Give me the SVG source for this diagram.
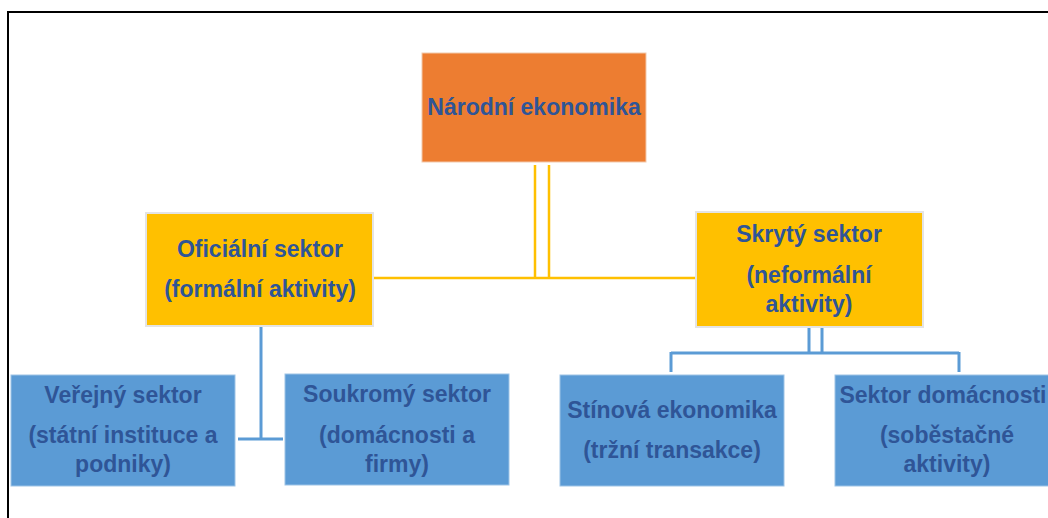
<svg xmlns="http://www.w3.org/2000/svg" width="1048" height="518" viewBox="0 0 1048 518">
<style>
.t{font-family:"Liberation Sans",Arial,sans-serif;font-weight:bold;font-size:23px;fill:#2F5597;text-anchor:middle}
.y{fill:#FFC000;stroke:#E4E4E4;stroke-width:2}
.o{fill:#ED7D31;stroke:#F2C9AC;stroke-width:1}
.b{fill:#5B9BD5;stroke:#9DC3E6;stroke-width:1}
.cy{stroke:#FFC000;stroke-width:2.5;fill:none}
.cb{stroke:#5B9BD5;stroke-width:3;fill:none}
</style>
<rect width="1048" height="518" fill="#fff"/>
<path d="M8,520 V12 H1050" fill="none" stroke="#000" stroke-width="2"/>
<g id="connectors">
<path class="cy" d="M535,165 V278 M549,165 V278 M373,278 H695"/>
<path class="cb" d="M809,327 V353 M822,327 V353 M671,353 H959 M671,352 V372 M959,352 V372"/>
<path class="cb" d="M261,327 V440" stroke-width="4"/>
<path class="cb" d="M238,439 H283"/>
</g>
<g id="narodni">
<rect class="o" x="422" y="53" width="224" height="109"/>
<text class="t" x="534" y="115">Národní ekonomika</text>
</g>
<g id="oficialni">
<rect class="y" x="146" y="213" width="227" height="113"/>
<text class="t" x="260" y="257">Oficiální sektor</text>
<text class="t" x="260" y="297">(formální aktivity)</text>
</g>
<g id="skryty">
<rect class="y" x="696" y="212" width="227" height="115"/>
<text class="t" x="809" y="242">Skrytý sektor</text>
<text class="t" x="809" y="283">(neformální</text>
<text class="t" x="809" y="312">aktivity)</text>
</g>
<g id="verejny">
<rect class="b" x="11" y="375" width="224" height="111"/>
<text class="t" x="123" y="403">Veřejný sektor</text>
<text class="t" x="123" y="443">(státní instituce a</text>
<text class="t" x="123" y="472">podniky)</text>
</g>
<g id="soukromy">
<rect class="b" x="285" y="374" width="224" height="111"/>
<text class="t" x="397" y="402">Soukromý sektor</text>
<text class="t" x="397" y="443">(domácnosti a</text>
<text class="t" x="397" y="472">firmy)</text>
</g>
<g id="stinova">
<rect class="b" x="560" y="375" width="224" height="111"/>
<text class="t" x="672" y="418">Stínová ekonomika</text>
<text class="t" x="672" y="458">(tržní transakce)</text>
</g>
<g id="domacnosti">
<rect class="b" x="835" y="375" width="224" height="111"/>
<text class="t" x="943" y="403">Sektor domácnosti</text>
<text class="t" x="947" y="443">(soběstačné</text>
<text class="t" x="947" y="472">aktivity)</text>
</g>
</svg>
